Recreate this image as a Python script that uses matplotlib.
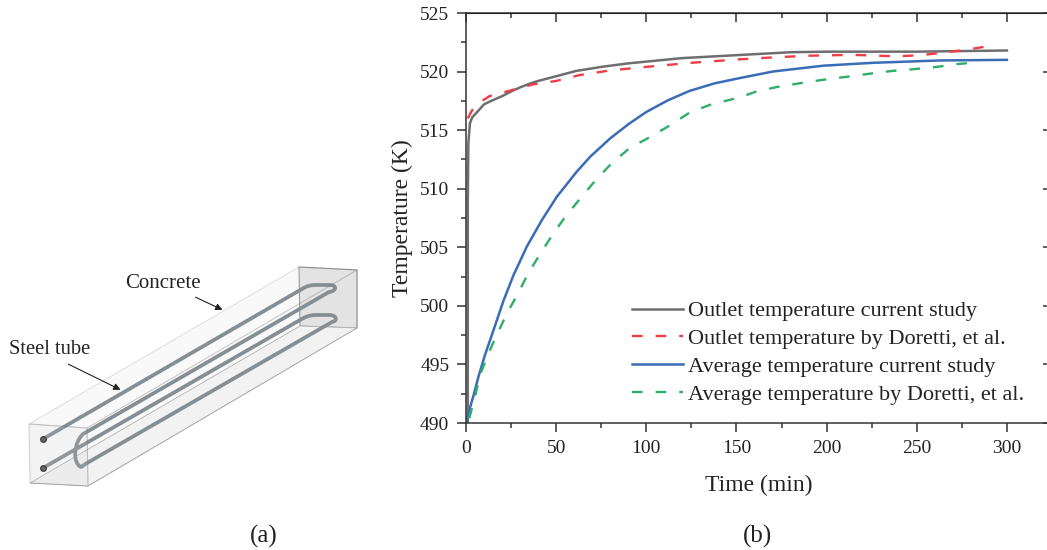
import matplotlib
matplotlib.use('Agg')
import matplotlib.pyplot as plt
from matplotlib.patches import Polygon, PathPatch
from matplotlib.path import Path
from matplotlib.ticker import MultipleLocator

plt.rcParams['font.family'] = ['Liberation Serif', 'DejaVu Serif']

# curves
t_outlet = [1, 1, 1.3, 2.2, 3.5, 5.9, 10, 14, 20, 25, 30, 35, 40, 50, 61, 75, 90, 100, 120, 150, 180, 200, 250, 300]
T_outlet = [490, 509, 513.9, 515.6, 516.1, 516.5, 517.2, 517.5, 517.9, 518.3, 518.65, 518.95, 519.2, 519.6, 520.05,
            520.4, 520.7, 520.85, 521.15, 521.4, 521.65, 521.7, 521.7, 521.8]
t_outlet_ref = [1, 3, 5, 8, 13, 25, 37, 50, 63, 80, 100, 125, 152, 163, 189, 214, 239, 252, 264, 277, 287]
T_outlet_ref = [516, 516.6, 517, 517.4, 517.9, 518.4, 518.9, 519.2, 519.7, 520.1, 520.4, 520.75, 521.05, 521.15,
                521.35, 521.43, 521.3, 521.4, 521.6, 521.85, 522.1]
t_avg = [0, 2, 4, 7, 10.5, 15.2, 20.7, 26.3, 33.7, 42, 50.3, 61.4, 69, 80, 90, 100, 112, 124, 138, 152, 170, 198, 226,
         263, 300]
T_avg = [490, 491.2, 492.25, 494, 495.8, 497.9, 500.4, 502.6, 505.05, 507.3, 509.3, 511.45, 512.75, 514.3, 515.5,
         516.55, 517.55, 518.35, 519, 519.45, 520, 520.5, 520.75, 520.95, 521]
t_avg_ref = [1.8, 5, 7.8, 12.9, 17.6, 22.9, 29, 34.6, 41, 47.9, 55.5, 63.6, 72, 81, 91, 102, 113, 124, 136, 152, 161,
             173, 185, 198, 211, 223, 236, 248, 261, 273, 285]
T_avg_ref = [490.4, 492.25, 494.1, 496.1, 497.7, 499.4, 501.1, 502.8, 504.4, 506.05, 507.7, 509.2, 510.75, 512.2,
             513.5, 514.4, 515.4, 516.5, 517.2, 517.8, 518.3, 518.7, 519, 519.3, 519.55, 519.8, 520.05, 520.2, 520.4,
             520.65, 520.8]

labels = ['Outlet temperature current study', 'Outlet temperature by Doretti, et al.',
          'Average temperature current study', 'Average temperature by Doretti, et al.']

# schematic of panel (a), picture pixels
front = [(29, 424), (87, 428), (88, 486), (30, 483)]
back = [(299, 267), (357, 270), (357, 328), (300, 326)]
top = [front[0], back[0], back[1], front[1]]
side = [front[1], back[1], back[2], front[2]]
bottom = [front[3], back[3], back[2], front[2]]
tube_pts = [(43, 439), (302, 289), (308, 285), (315, 285), (330, 285), (337, 285), (337, 291), (329, 292),
            (83, 434), (74, 442), (72, 463), (81, 467), (87, 463), (332, 322), (338, 321), (337, 315), (329, 315),
            (315, 315), (308, 315), (300, 320), (43, 468)]
tube_codes = [Path.MOVETO, Path.LINETO, Path.CURVE3, Path.CURVE3, Path.LINETO, Path.CURVE4, Path.CURVE4, Path.CURVE4,
              Path.LINETO, Path.CURVE4, Path.CURVE4, Path.CURVE4, Path.LINETO, Path.LINETO, Path.CURVE4, Path.CURVE4,
              Path.CURVE4, Path.LINETO, Path.CURVE3, Path.CURVE3, Path.LINETO]

fig = plt.figure(figsize=(10.47, 5.5), dpi=100)

over = fig.add_axes([0, 0, 1, 1])
over.set_xlim(0, 1047)
over.set_ylim(550, 0)
over.axis('off')
over.add_patch(Polygon(back, fc='#e4e4e4', ec='#8a8a8a', lw=0.8))
over.add_patch(Polygon(bottom, fc='#f6f6f6', ec='#a8a8a8', lw=0.6))
over.add_patch(PathPatch(Path(tube_pts, tube_codes), fc='none', ec='#6f7a80', lw=2.7, joinstyle='round'))
over.add_patch(Polygon(top, fc='#e2e2e2', alpha=0.2, ec='#777777', lw=0.8))
over.add_patch(Polygon(side, fc='#e2e2e2', alpha=0.2, ec='#777777', lw=0.8))
over.add_patch(Polygon(front, fc='#d8d8d8', alpha=0.3, ec='#777777', lw=0.8))
over.plot([43, 43], [439, 468], ls='none', marker='o', ms=4, mfc='#666666', mec='#444444')
over.annotate('', xy=(225, 311), xytext=(193, 296), arrowprops=dict(arrowstyle='-|>', color='#222222', lw=0.8))
over.annotate('', xy=(123, 391), xytext=(66, 363), arrowprops=dict(arrowstyle='-|>', color='#222222', lw=0.8))
over.text(163, 284, 'Concrete', fontsize=15, ha='center', va='center', color='#222222')
over.text(50, 350, 'Steel tube', fontsize=14.8, ha='center', va='center', color='#222222')
over.text(264, 536, '(a)', fontsize=18, ha='center', va='center', color='#222222')
over.text(757, 536, '(b)', fontsize=18, ha='center', va='center', color='#222222')

ax = fig.add_axes([466 / 1047, 1 - 423 / 550, 586 / 1047, 410 / 550])
ax.patch.set_alpha(0)
ax.plot(t_outlet, T_outlet, color='#6e6e70', lw=1.8, label=labels[0])
ax.plot(t_outlet_ref, T_outlet_ref, color='#ee3d46', lw=1.7, dashes=(4.5, 5.5), label=labels[1])
ax.plot(t_avg, T_avg, color='#3a6cb8', lw=1.8, label=labels[2])
ax.plot(t_avg_ref, T_avg_ref, color='#2fae6a', lw=1.7, dashes=(4.5, 5.5), label=labels[3])

ax.set_xlim(0, 325)
ax.set_ylim(490, 525)
ax.xaxis.set_major_locator(MultipleLocator(50))
ax.xaxis.set_minor_locator(MultipleLocator(25))
ax.yaxis.set_major_locator(MultipleLocator(5))
ax.yaxis.set_minor_locator(MultipleLocator(2.5))
for s in ax.spines.values():
    s.set_color('#333333')
    s.set_linewidth(1.1)
ax.tick_params(which='major', direction='out', length=6.5, width=1.1, color='#333333', labelsize=14,
               labelcolor='#222222', pad=5.5)
ax.tick_params(which='minor', direction='out', length=3.5, width=1.1, color='#333333')
# top and right ticks point inward, the left and bottom ones outward
sx = ax.secondary_xaxis('top')
sx.xaxis.set_major_locator(MultipleLocator(50))
sx.xaxis.set_minor_locator(MultipleLocator(25))
sx.tick_params(which='major', direction='in', length=6.5, width=1.1, color='#333333', labeltop=False)
sx.tick_params(which='minor', direction='in', length=3.5, width=1.1, color='#333333')
sy = ax.secondary_yaxis('right')
sy.yaxis.set_major_locator(MultipleLocator(5))
sy.tick_params(which='major', direction='in', length=6.5, width=1.1, color='#333333', labelright=False)

fig.text(759 / 1047, 1 - 485 / 550, 'Time (min)', fontsize=17, ha='center', va='center', color='#222222')
fig.text(402 / 1047, 1 - 218 / 550, 'Temperature (K)', fontsize=17, rotation=90, ha='center', va='center',
         color='#222222')

ax.legend(loc='lower left', bbox_to_anchor=(166 / 586, 18 / 410), frameon=False, fontsize=16, handlelength=2.3,
          handletextpad=0.22, labelspacing=0.33, borderpad=0, borderaxespad=0, labelcolor='#222222')

fig.savefig('out.png', dpi=100)
